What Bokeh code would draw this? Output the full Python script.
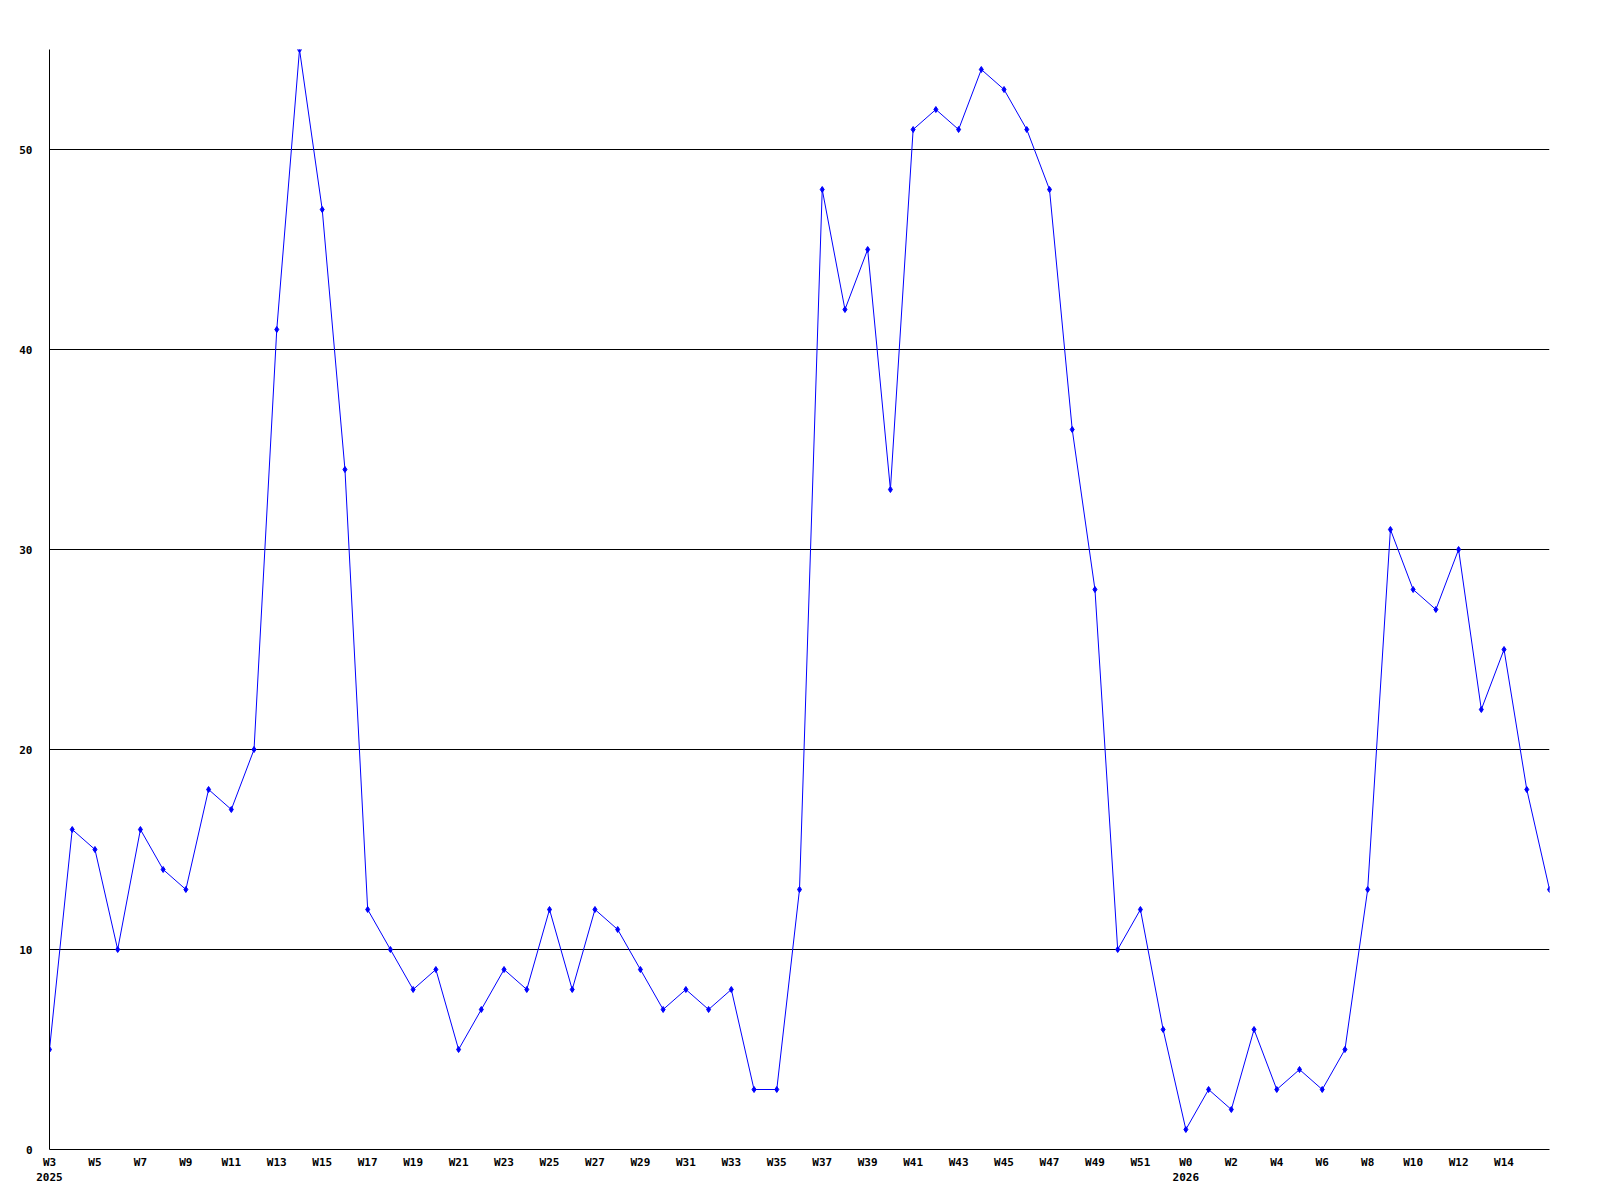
from bokeh.plotting import figure
from bokeh.models import FixedTicker, Range1d
from bokeh.embed import file_html
from bokeh.resources import INLINE

weeks = ["W%d" % w for w in range(3, 53)] + ["W%d" % w for w in range(0, 17)]
years = ["2025"] * 50 + ["2026"] * 17
values = [5, 16, 15, 10, 16, 14, 13, 18, 17, 20,
          41, 55, 47, 34, 12, 10, 8, 9, 5, 7,
          9, 8, 12, 8, 12, 11, 9, 7, 8, 7,
          8, 3, 3, 13, 48, 42, 45, 33, 51, 52,
          51, 54, 53, 51, 48, 36, 28, 10, 12, 6,
          1, 3, 2, 6, 3, 4, 3, 5, 13, 31,
          28, 27, 30, 22, 25, 18, 13]
y_ticks = [0, 10, 20, 30, 40, 50]

x = list(range(len(values)))

p = figure(frame_width=1500, frame_height=1100, width=1584, height=1184,
           output_backend="svg", toolbar_location=None,
           min_border_left=49, min_border_top=49, min_border_right=35, min_border_bottom=35,
           x_range=Range1d(0, len(values) - 1), y_range=Range1d(0, 55))
p.outline_line_color = None

p.line(x, values, line_color="#0000ff", line_width=1)
p.scatter(x, values, marker="diamond", size=6, fill_color="#0000ff", line_color="#0000ff")

# x axis labels (every other week, last labelled week is W14)
tick_idx = list(range(0, len(values) - 2, 2))
labels = {}
prev_year = None
for i in tick_idx:
    lab = weeks[i]
    if years[i] != prev_year:
        lab = lab + "\n" + years[i]
        prev_year = years[i]
    labels[i] = lab
p.xaxis.ticker = FixedTicker(ticks=tick_idx)
p.xaxis.major_label_overrides = labels
p.yaxis.ticker = FixedTicker(ticks=y_ticks)

for ax in (p.xaxis[0], p.yaxis[0]):
    ax.axis_line_color = "black"
    ax.axis_line_width = 1
    ax.major_tick_line_color = None
    ax.minor_tick_line_color = None
    ax.major_tick_out = 0
    ax.major_tick_in = 0
    ax.minor_tick_out = 0
    ax.minor_tick_in = 0
    ax.major_label_text_font = "DejaVu Sans Mono"
    ax.major_label_text_font_style = "bold"
    ax.major_label_text_font_size = "11px"
    ax.major_label_text_color = "black"

p.xaxis.major_label_standoff = 6
p.yaxis.major_label_standoff = 17

p.xgrid.grid_line_color = None
p.ygrid.grid_line_color = "black"
p.ygrid.grid_line_width = 1
p.ygrid.grid_line_alpha = 1.0

open("out.html", "w").write(file_html(p, INLINE))
